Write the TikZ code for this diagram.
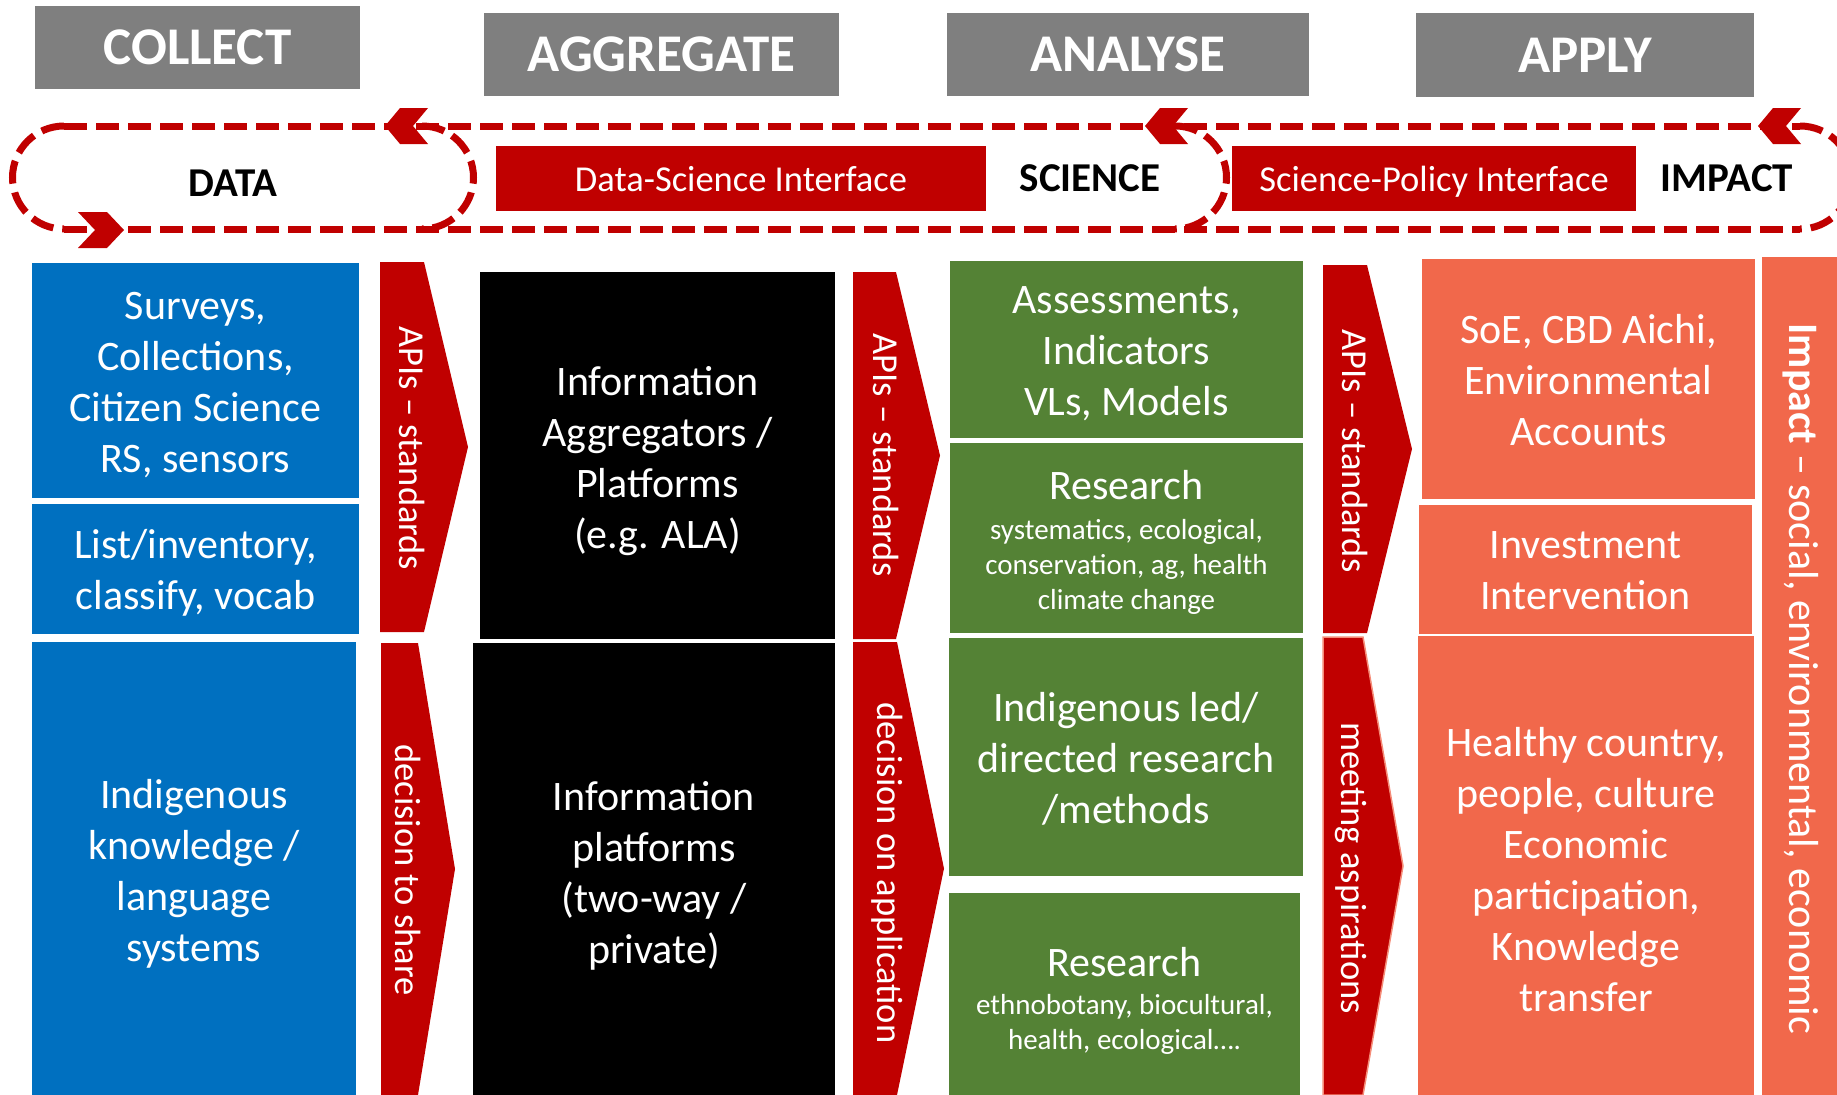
\documentclass[tikz,border=0pt]{standalone}
\usepackage{fontspec}
\setmainfont{Carlito}
\definecolor{hdrgray}{HTML}{7F7F7F}
\definecolor{dred}{HTML}{C00000}
\definecolor{cblue}{HTML}{0070C0}
\definecolor{cgreen}{HTML}{548235}
\definecolor{corange}{HTML}{F1684B}
\definecolor{lorange}{HTML}{F58C78}
\begin{document}
\begin{tikzpicture}[x=1pt,y=-1pt,
  box/.style={inner sep=0pt},
  btxt/.style={inner sep=0pt, align=center, text=white, font=\fontsize{42}{51}\selectfont},
  hdr/.style={box, fill=hdrgray, text=white, font=\fontsize{53}{60}\selectfont\bfseries},
  iface/.style={box, fill=dred},
  itxt/.style={inner sep=0pt, text=white, font=\fontsize{36.5}{44}\selectfont},
  looplabel/.style={inner sep=0pt, text=black, font=\fontsize{41}{48}\selectfont\bfseries},
  loopline/.style={draw=dred, line width=7pt, dash pattern=on 23pt off 9pt},
  chev/.style={fill=dred},
  redarrow/.style={fill=dred},
  arrowtxt/.style={inner sep=0pt, text=white, rotate=-90, font=\fontsize{36.5}{44}\selectfont},
  subtxt/.style={inner sep=0pt, align=center, text=white, font=\fontsize{29}{35}\selectfont}]
\useasboundingbox (0,0) rectangle (1837,1095);
\clip (0,0) rectangle (1837,1095);

% headers
\node[hdr, minimum width=325pt, minimum height=83pt] (collect) at (197.5,47.5) {COLLECT};
\node[hdr, minimum width=355pt, minimum height=83pt] (aggregate) at (661.5,54.5) {AGGREGATE};
\node[hdr, minimum width=362pt, minimum height=83pt] (analyse) at (1128,54.5) {ANALYSE};
\node[hdr, minimum width=338pt, minimum height=84pt] (apply) at (1585,55) {APPLY};

% dashed loops
\draw[loopline] (64,126) -- (1800,126);
\draw[loopline] (64,229) -- (1800,229);
\draw[loopline] (64,126) arc[start angle=90, end angle=270, radius=51.5pt];
\draw[loopline] (422,126) arc[start angle=90, end angle=-90, radius=51.5pt];
\draw[loopline] (1175,126) arc[start angle=90, end angle=-90, radius=51.5pt];
\draw[loopline] (1800,126) arc[start angle=90, end angle=-90, radius=51.5pt];

% chevrons
\fill[chev] (385,126) -- (400,108) -- (428,108) -- (413,126) -- (428,144) -- (400,144) -- cycle;
\fill[chev] (1145,126) -- (1160,108) -- (1188,108) -- (1173,126) -- (1188,144) -- (1160,144) -- cycle;
\fill[chev] (1758,126) -- (1773,108) -- (1801,108) -- (1786,126) -- (1801,144) -- (1773,144) -- cycle;
\fill[chev] (124,230) -- (107,212) -- (78,212) -- (95,230) -- (78,248) -- (107,248) -- cycle;

% loop labels and interfaces
\node[looplabel] (data) at (233,183) {DATA};
\node[looplabel] (science) at (1090,178) {SCIENCE};
\node[looplabel] (impact) at (1727,178) {IMPACT};
\node[iface, minimum width=490pt, minimum height=65pt] (dsi) at (741,178.5) {};
\node[itxt] (dsit) at (741,179.5) {Data-Science Interface};
\node[iface, minimum width=404pt, minimum height=65pt] (spi) at (1434,178.5) {};
\node[itxt] (spit) at (1434,182) {Science-Policy Interface};

% blue column
\node[box, fill=cblue, minimum width=327pt, minimum height=235pt] (b1) at (195.5,380.5) {};
\node[btxt] (b1t) at (195.5,385) {Surveys,\\Collections,\\Citizen Science\\RS, sensors};
\node[box, fill=cblue, minimum width=327pt, minimum height=130pt] (b2) at (195.5,569) {};
\node[btxt] (b2t) at (195.5,573) {List/inventory,\\classify, vocab};
\node[box, fill=cblue, minimum width=324pt, minimum height=453pt] (b3) at (194,868.5) {};
\node[btxt] (b3t) at (194,874) {Indigenous\\knowledge /\\language\\systems};

% black column
\node[box, fill=black, minimum width=355pt, minimum height=367pt] (k1) at (657.5,455.5) {};
\node[btxt] (k1t) at (657.5,461) {Information\\Aggregators /\\Platforms\\(e.g. ALA)};
\node[box, fill=black, minimum width=362pt, minimum height=452pt] (k2) at (654,869) {};
\node[btxt] (k2t) at (654,876) {Information\\platforms\\(two-way /\\private)};

% green column
\node[box, fill=cgreen, minimum width=353pt, minimum height=177pt] (g1) at (1126.5,349.5) {};
\node[btxt] (g1t) at (1126.5,354) {Assessments,\\Indicators\\VLs, Models};
\node[box, fill=cgreen, minimum width=353pt, minimum height=190pt] (g2) at (1126.5,538) {};
\node[btxt] (g2t) at (1126.5,485) {Research};
\node[subtxt] (g2s) at (1126.5,567) {systematics, ecological,\\conservation, ag, health\\climate change};
\node[box, fill=cgreen, minimum width=354pt, minimum height=238pt] (g3) at (1126,757) {};
\node[btxt] (g3t) at (1126,758.5) {Indigenous led/\\directed research\\/methods};
\node[box, fill=cgreen, minimum width=351pt, minimum height=202pt] (g4) at (1124.5,994) {};
\node[btxt] (g4t) at (1124.5,962) {Research};
\node[subtxt] (g4s) at (1124.5,1024) {ethnobotany, biocultural,\\health, ecological….};

% orange column
\node[box, fill=corange, minimum width=333pt, minimum height=240pt] (o1) at (1588.5,379) {};
\node[btxt] (o1t) at (1588.5,380) {SoE, CBD Aichi,\\Environmental\\Accounts};
\node[box, fill=corange, minimum width=333pt, minimum height=129pt] (o2) at (1585.5,569.5) {};
\node[btxt] (o2t) at (1585.5,570.5) {Investment\\Intervention};
\node[box, fill=corange, minimum width=336pt, minimum height=459pt] (o3) at (1586,865.5) {};
\node[btxt] (o3t) at (1586,869.5) {Healthy country,\\people, culture\\Economic\\participation,\\Knowledge\\transfer};
\node[box, fill=corange, minimum width=88pt, minimum height=838pt] (ic) at (1806,676) {};
\node[arrowtxt, font=\fontsize{42}{50}\selectfont] (ict) at (1801,679) {\textbf{Impact} – social, environmental, economic};

% red pentagon arrows
\fill[redarrow] (380,262) -- (424,262) -- (468,447) -- (424,632) -- (380,632) -- cycle;
\fill[redarrow] (381,643) -- (418,643) -- (455,869) -- (418,1095) -- (381,1095) -- cycle;
\fill[redarrow] (853,272) -- (896,272) -- (940,455.5) -- (896,639) -- (853,639) -- cycle;
\fill[redarrow] (853,642) -- (897,642) -- (944,868.5) -- (897,1095) -- (853,1095) -- cycle;
\fill[redarrow] (1323,265) -- (1367,265) -- (1412,449) -- (1367,633) -- (1323,633) -- cycle;
\filldraw[redarrow, draw=lorange, line width=1.5pt] (1323,637) -- (1363,637) -- (1403,866) -- (1363,1095) -- (1323,1095) -- cycle;

\node[arrowtxt] (a1tt) at (412,448) {APIs – standards};
\node[arrowtxt] (a1bt) at (408,870) {decision to share};
\node[arrowtxt] (a2tt) at (886,455) {APIs – standards};
\node[arrowtxt] (a2bt) at (887,873) {decision on application};
\node[arrowtxt] (a3tt) at (1355,451) {APIs – standards};
\node[arrowtxt] (a3bt) at (1351,868) {meeting aspirations};
\end{tikzpicture}
\end{document}
